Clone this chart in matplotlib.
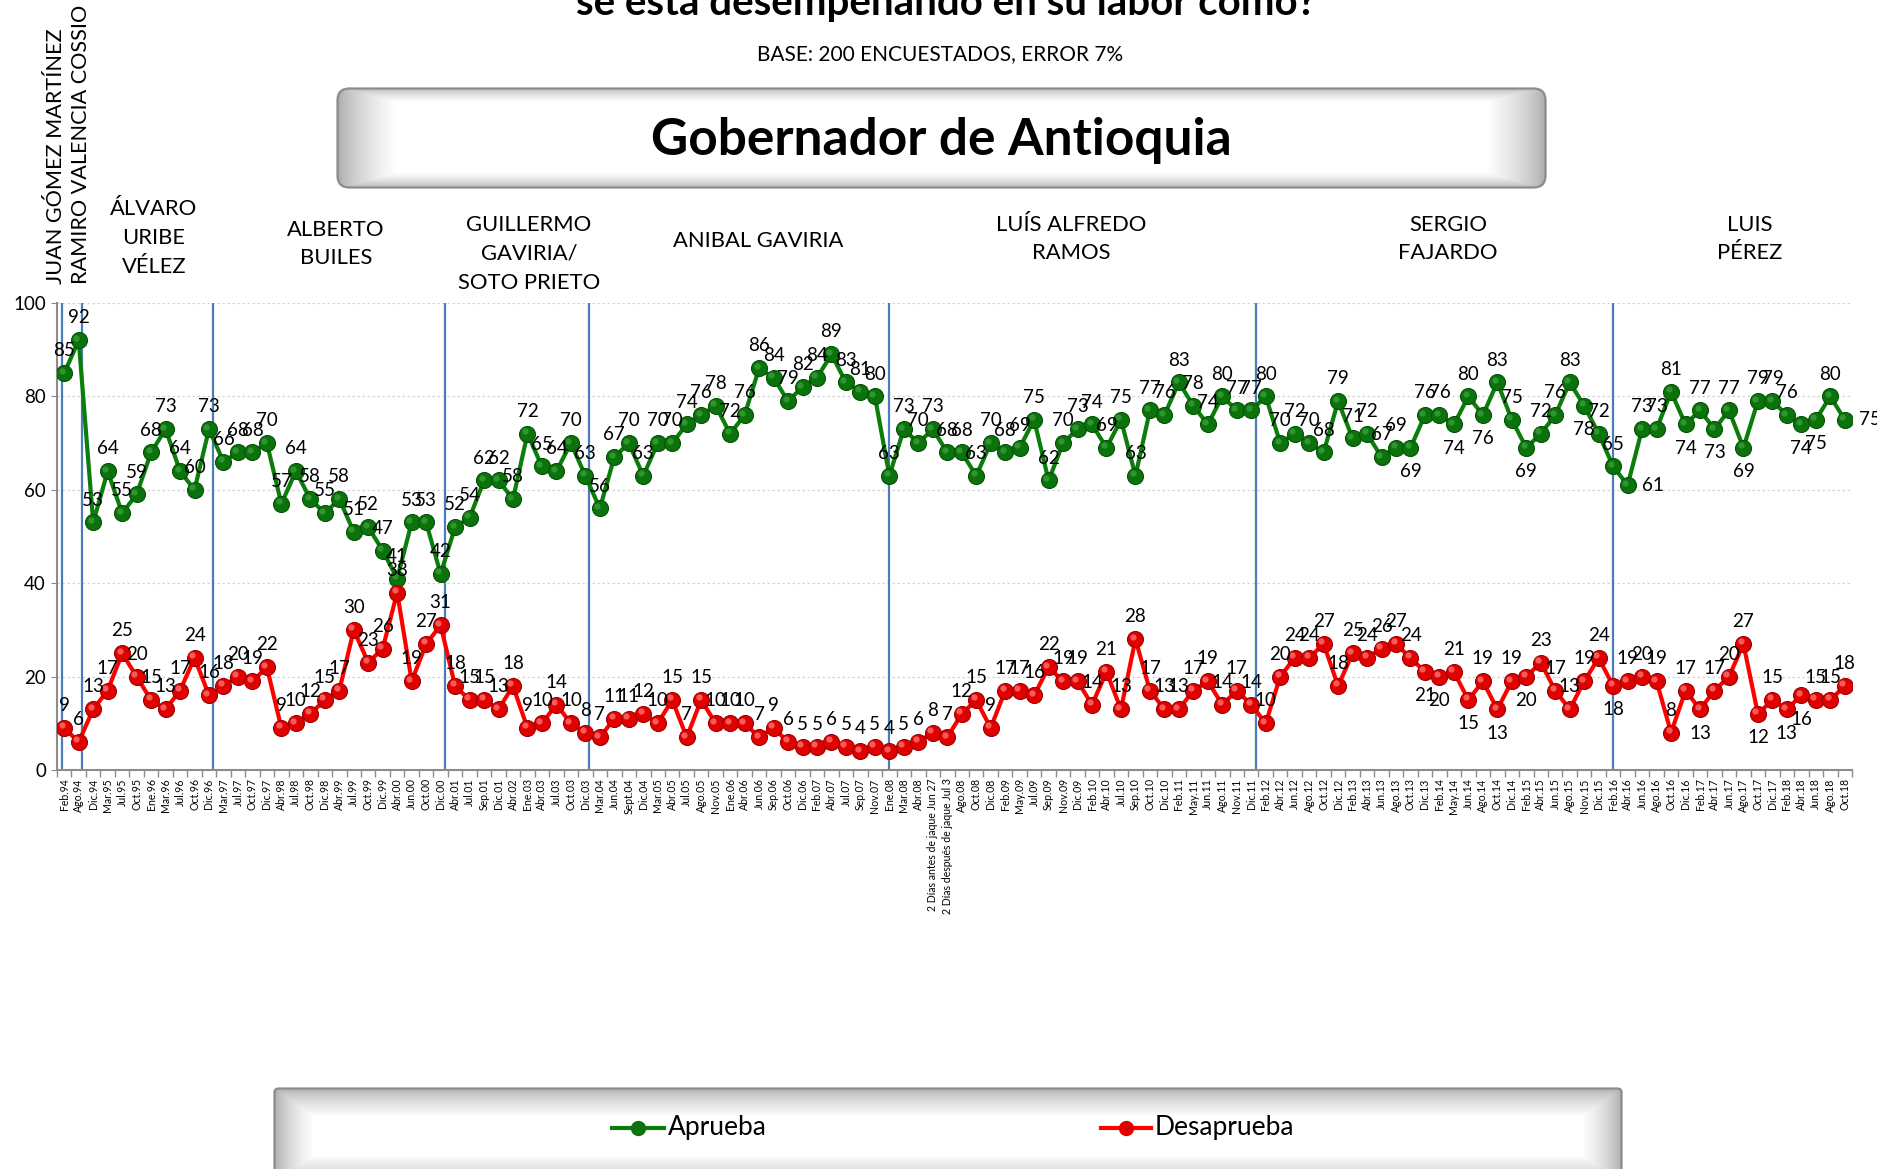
import numpy as np
import matplotlib
matplotlib.use("Agg")
import matplotlib.pyplot as plt
from matplotlib.patches import FancyBboxPatch
from matplotlib.lines import Line2D
from matplotlib.transforms import offset_copy

plt.rcParams['font.family'] = ['Lato', 'DejaVu Sans']

# ---------------------------------------------------------------- data
periods = [
    "Feb.94", "Ago.94", "Dic.94", "Mar.95", "Jul.95", "Oct.95", "Ene.96", "Mar.96", "Jul.96", "Oct.96",
    "Dic.96", "Mar.97", "Jul.97", "Oct.97", "Dic.97", "Abr.98", "Jul.98", "Oct.98", "Dic.98", "Abr.99",
    "Jul.99", "Oct.99", "Dic.99", "Abr.00", "Jun.00", "Oct.00", "Dic.00", "Abr.01", "Jul.01", "Sep.01",
    "Dic.01", "Abr.02", "Ene.03", "Abr.03", "Jul.03", "Oct.03", "Dic.03", "Mar.04", "Jun.04", "Sept.04",
    "Dic.04", "Mar.05", "Abr.05", "Jul.05", "Ago.05", "Nov.05", "Ene.06", "Abr.06", "Jun.06", "Sep.06",
    "Oct.06", "Dic.06", "Feb.07", "Abr.07", "Jul.07", "Sep.07", "Nov.07", "Ene.08", "Mar.08", "Abr.08",
    "2 Días antes de jaque Jun 27", "2 Días después de jaque Jul 3", "Ago.08", "Oct.08", "Dic.08",
    "Feb.09", "May.09", "Jul.09", "Sep.09", "Nov.09",
    "Dic.09", "Feb.10", "Abr.10", "Jul.10", "Sep.10", "Oct.10", "Dic.10", "Feb.11", "May.11", "Jun.11",
    "Ago.11", "Nov.11", "Dic.11", "Feb.12", "Abr.12", "Jun.12", "Ago.12", "Oct.12", "Dic.12", "Feb.13",
    "Abr.13", "Jun.13", "Ago.13", "Oct.13", "Dic.13", "Feb.14", "May.14", "Jun.14", "Ago.14", "Oct.14",
    "Dic.14", "Feb.15", "Abr.15", "Jun.15", "Ago.15", "Nov.15", "Dic.15", "Feb.16", "Abr.16", "Jun.16",
    "Ago.16", "Oct.16", "Dic.16", "Feb.17", "Abr.17", "Jun.17", "Ago.17", "Oct.17", "Dic.17", "Feb.18",
    "Abr.18", "Jun.18", "Ago.18", "Oct.18",
]

aprueba = [
    85, 92, 53, 64, 55, 59, 68, 73, 64, 60,
    73, 66, 68, 68, 70, 57, 64, 58, 55, 58,
    51, 52, 47, 41, 53, 53, 42, 52, 54, 62,
    62, 58, 72, 65, 64, 70, 63, 56, 67, 70,
    63, 70, 70, 74, 76, 78, 72, 76, 86, 84,
    79, 82, 84, 89, 83, 81, 80, 63, 73, 70,
    73, 68, 68, 63, 70, 68, 69, 75, 62, 70,
    73, 74, 69, 75, 63, 77, 76, 83, 78, 74,
    80, 77, 77, 80, 70, 72, 70, 68, 79, 71,
    72, 67, 69, 69, 76, 76, 74, 80, 76, 83,
    75, 69, 72, 76, 83, 78, 72, 65, 61, 73,
    73, 81, 74, 77, 73, 77, 69, 79, 79, 76,
    74, 75, 80, 75,
]

desaprueba = [
    9, 6, 13, 17, 25, 20, 15, 13, 17, 24,
    16, 18, 20, 19, 22, 9, 10, 12, 15, 17,
    30, 23, 26, 38, 19, 27, 31, 18, 15, 15,
    13, 18, 9, 10, 14, 10, 8, 7, 11, 11,
    12, 10, 15, 7, 15, 10, 10, 10, 7, 9,
    6, 5, 5, 6, 5, 4, 5, 4, 5, 6,
    8, 7, 12, 15, 9, 17, 17, 16, 22, 19,
    19, 14, 21, 13, 28, 17, 13, 13, 17, 19,
    14, 17, 14, 10, 20, 24, 24, 27, 18, 25,
    24, 26, 27, 24, 21, 20, 21, 15, 19, 13,
    19, 20, 23, 17, 13, 19, 24, 18, 19, 20,
    19, 8, 17, 13, 17, 20, 27, 12, 15, 13,
    16, 15, 15, 18,
]

# first survey of each administration
term_starts = ["Feb.94", "Ago.94", "Dic.96", "Dic.00", "Dic.03", "Ene.08", "Dic.11", "Feb.16"]

governors = [
    "ÁLVARO\nURIBE\nVÉLEZ", "ALBERTO\nBUILES", "GUILLERMO\nGAVIRIA/\nSOTO PRIETO",
    "ANIBAL GAVIRIA", "LUÍS ALFREDO\nRAMOS", "SERGIO\nFAJARDO", "LUIS\nPÉREZ",
]
rotated_governors = ["JUAN GÓMEZ MARTÍNEZ", "RAMIRO VALENCIA COSSIO"]

# ---------------------------------------------------------------- layout helpers
W, H = 1877, 1169
fig = plt.figure(figsize=(W / 100, H / 100), dpi=100)
fig.patch.set_facecolor("white")


def fx(px):
    return px / W


def fy(py):
    return 1 - py / H


def bevel_box(x0, y0, x1, y1, band_x, band_y, rounding, edge=0.62, outline="#8c8c8c"):
    bax = fig.add_axes([fx(x0), fy(y1), (x1 - x0) / W, (y1 - y0) / H])
    w, h = int(x1 - x0), int(y1 - y0)
    bax.set_xlim(0, w)
    bax.set_ylim(h, 0)
    bax.axis("off")
    xs = np.arange(w) + 0.5
    ys = np.arange(h) + 0.5
    dx = np.minimum(xs, w - xs)[None, :] / band_x
    dy = np.minimum(ys, h - ys)[:, None] / band_y
    t = np.clip(np.minimum(dx, dy), 0, 1) ** 0.6
    g = edge + (1 - edge) * t
    img = np.dstack([g, g, g])
    im = bax.imshow(img, extent=(0, w, h, 0), aspect="auto", interpolation="bilinear")
    patch = FancyBboxPatch((1.5, 1.5), w - 3, h - 3,
                           boxstyle=f"round,pad=0,rounding_size={rounding}",
                           fc="none", ec=outline, lw=1.6)
    bax.add_patch(patch)
    im.set_clip_path(patch)
    return bax


# ---------------------------------------------------------------- headings
fig.text(fx(946), fy(15), "se está desempeñando en su labor como?", ha="center",
         va="baseline", fontsize=29, fontweight="bold")
fig.text(fx(940), fy(54), "BASE: 200 ENCUESTADOS, ERROR 7%", ha="center", va="center",
         fontsize=15)

bevel_box(336, 87, 1547, 189, band_x=60, band_y=16, rounding=12)
fig.text(fx(941), fy(141), "Gobernador de Antioquia", ha="center", va="center",
         fontsize=37, fontweight="bold")

name_pos = [(154, 238), (336, 244), (529, 254), (758, 241), (1071, 239), (1448, 239), (1750, 239)]
for name, (px, py) in zip(governors, name_pos):
    fig.text(fx(px), fy(py), name, ha="center", va="center", ma="center",
             fontsize=15.8, linespacing=1.55)
for name, px in zip(rotated_governors, [56, 81]):
    fig.text(fx(px), fy(284), name, rotation=90, ha="center", va="bottom", fontsize=15.6)

# ---------------------------------------------------------------- chart
ax = fig.add_axes([fx(57), fy(770), (1852 - 57) / W, (770 - 303) / H])
x = np.arange(len(periods))
ax.set_xlim(-0.5, len(periods) - 0.5)
ax.set_ylim(0, 100)
ax.set_yticks(range(0, 101, 20))
ax.tick_params(axis="y", labelsize=13.5, length=4, color="#8c8c8c", pad=4)
ax.grid(axis="y", color="#d4d4d4", linestyle=(0, (2, 2)), lw=0.9)
ax.set_axisbelow(True)
for s in ("top", "right"):
    ax.spines[s].set_visible(False)
for s in ("left", "bottom"):
    ax.spines[s].set_color("#8c8c8c")
    ax.spines[s].set_linewidth(1.5)

ax.set_xticks(x)
ax.set_xticklabels(periods, rotation=90, fontsize=7.6)
ax.tick_params(axis="x", which="major", length=0, pad=6)
ax.set_xticks(np.arange(-0.5, len(periods), 1), minor=True)
ax.tick_params(axis="x", which="minor", length=5, color="#8c8c8c", width=1)

# administration dividers
divider_shift = [-0.15, 0.25, 0.25, 0.3, 0.25, 0.0, 0.35, 0.0]
for lab, sh in zip(term_starts, divider_shift):
    ax.axvline(periods.index(lab) + sh, color="#4a7ebb", lw=1.6, zorder=1)

hl = offset_copy(ax.transData, fig=fig, x=-1.8, y=1.8, units="points")

ax.plot(x, aprueba, color="#0a7d0a", lw=3, zorder=3, solid_capstyle="round")
ax.plot(x, aprueba, ls="none", marker="o", ms=11.5, mfc="#0b730b", mec="#065206",
        mew=0.8, zorder=4)
ax.plot(x, aprueba, ls="none", marker="o", ms=4.5, mfc="#3a9e3a", mec="none",
        alpha=0.8, zorder=5, transform=hl)

ax.plot(x, desaprueba, color="#ff0000", lw=3, zorder=3, solid_capstyle="round")
ax.plot(x, desaprueba, ls="none", marker="o", ms=11.5, mfc="#e00000", mec="#a00000",
        mew=0.8, zorder=4)
ax.plot(x, desaprueba, ls="none", marker="o", ms=4.5, mfc="#ff7070", mec="none",
        alpha=0.8, zorder=5, transform=hl)

# value labels; a few sit below or beside their marker
apr_below = {93, 96, 98, 101, 105, 112, 114, 116, 120, 121}
apr_right = {108, 123}
des_below = {94, 95, 97, 99, 101, 107, 113, 117, 119, 120}


def put_label(i, v, below, right):
    if right:
        off, ha, va = (10, 0), "left", "center"
    elif below:
        off, ha, va = (0, -11), "center", "top"
    else:
        off, ha, va = (0, 10), "center", "bottom"
    ax.annotate(str(v), (i, v), xytext=off, textcoords="offset points", ha=ha, va=va,
                fontsize=13.5, zorder=6)


for i, v in enumerate(aprueba):
    put_label(i, v, i in apr_below, i in apr_right)
for i, v in enumerate(desaprueba):
    put_label(i, v, i in des_below, False)

# ---------------------------------------------------------------- legend
bevel_box(273, 1087, 1623, 1185, band_x=40, band_y=30, rounding=4)
legend_items = [("Aprueba", "#0a7d0a", "#0b730b", 612, 664),
                ("Desaprueba", "#ff0000", "#e00000", 1101, 1151)]
for label, lc, mc, x0, x1 in legend_items:
    fig.add_artist(Line2D([fx(x0), fx((x0 + x1) / 2), fx(x1)], [fy(1128)] * 3, color=lc,
                          lw=3, marker="o", ms=10, mfc=mc, mec=mc, markevery=[1]))
    fig.text(fx(x1 + 4), fy(1128), label, ha="left", va="center", fontsize=19)

fig.savefig("out.png", dpi=100)
